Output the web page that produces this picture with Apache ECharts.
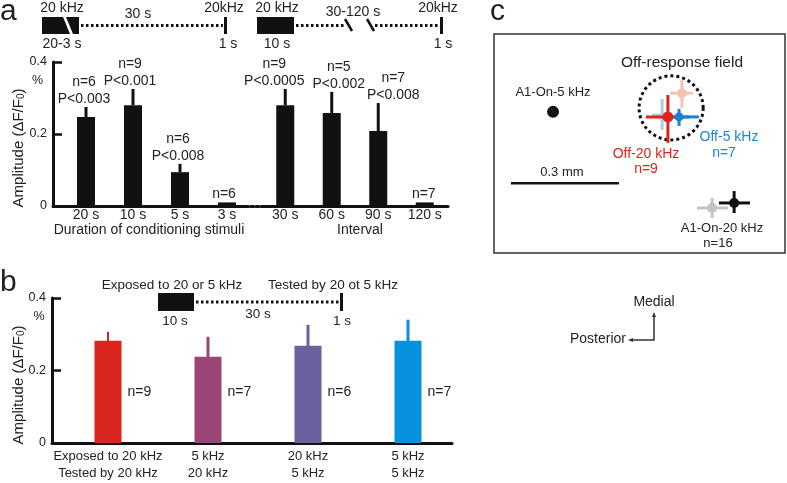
<!DOCTYPE html>
<html>
<head>
<meta charset="utf-8">
<script src="https://cdn.jsdelivr.net/npm/echarts@6/dist/echarts.min.js"></script>
<style>html,body{margin:0;padding:0;background:#fff}#c{width:787px;height:483px}</style>
</head>
<body>
<div id="c"></div>
<script>
// ---------- DATA ----------
const durCats = ['20 s', '10 s', '5 s', '3 s'];
const durMean = [0.247, 0.280, 0.094, 0.010];
const durUpper = [0.275, 0.325, 0.117, 0.010];
const durN = ['n=6', 'n=9', 'n=6', 'n=6'];
const durP = ['P<0.003', 'P<0.001', 'P<0.008', ''];

const intCats = ['30 s', '60 s', '90 s', '120 s'];
const intMean = [0.280, 0.258, 0.208, 0.010];
const intUpper = [0.325, 0.317, 0.286, 0.010];
const intN = ['n=9', 'n=5', 'n=7', 'n=7'];
const intP = ['P<0.0005', 'P<0.002', 'P<0.008', ''];

const expCats = ['Exposed to 20 kHz\nTested by 20 kHz', '5 kHz\n20 kHz', '20 kHz\n5 kHz', '5 kHz\n5 kHz'];
const expMean = [0.282, 0.238, 0.268, 0.282];
const expUpper = [0.307, 0.293, 0.326, 0.340];
const expN = ['n=9', 'n=7', 'n=6', 'n=7'];

const yTicks = [0, 0.2, 0.4];

// panel c, positions in mm inside the field of view
const spotNames = ['Off-5 kHz (pale)', 'Off-20 kHz (pale)', 'Off-20 kHz', 'Off-5 kHz', 'A1-On-20 kHz (pale)', 'A1-On-20 kHz', 'A1-On-5 kHz'];
const spotX   = [0.467, 0.522, 0.483, 0.514, 0.606, 0.667, 0.164];
const spotY   = [0.383, 0.444, 0.378, 0.378, 0.125, 0.139, 0.392];
const spotXLo = [0.439, 0.489, 0.422, 0.500, 0.564, 0.625, 0.164];
const spotXHi = [0.492, 0.553, 0.542, 0.569, 0.650, 0.711, 0.164];
const spotYLo = [0.342, 0.403, 0.306, 0.353, 0.097, 0.111, 0.392];
const spotYHi = [0.428, 0.481, 0.439, 0.400, 0.153, 0.172, 0.392];
const fieldCenter = [0.492, 0.403];
const fieldRadius = 0.089;
const scaleBarStart = [0.047, 0.194];
const scaleBarLength = 0.3;
const viewWidth = 0.8083, viewHeight = 0.6083;

// ---------- STYLE ----------
const FONT = "'Liberation Sans', Arial, sans-serif";
const INK = '#111';
const TXT = '#222';
const EXP_COLORS = ['#d9251e', '#9b4577', '#6c5f9e', '#0891dd'];
const EXP_ERR_W = [2, 3, 3, 3];
const DUR_DX = [-2, -3, -2, -3];
const INT_DX = [-11, 7, 15, -1];
const N_LABEL_Y = 0.14;
const SPOT_COLORS = ['#a9d0dd', '#f5c3b3', '#dd2420', '#1583d4', '#c4c4c4', '#111', '#111'];
const SPOT_DOT = [0, 10, 11, 9, 10, 10, 12];

function txt(x, y, text, opt) {
  opt = opt || {};
  return {
    type: 'text', x: x, y: y, rotation: opt.rotation || 0,
    style: {
      text: text, fill: opt.color || TXT,
      fontSize: opt.size || 14, fontFamily: FONT,
      align: opt.align || 'center', verticalAlign: 'middle',
      textAlign: opt.align || 'center', textVerticalAlign: 'middle',
      rich: opt.rich
    }
  };
}

function errRender(nArr, pArr, dxArr) {
  return function (params, api) {
    const i = params.dataIndex;
    const x = api.value(0);
    const top = api.coord([x, api.value(1)]);
    const up = api.coord([x, api.value(2)]);
    const ch = [];
    if (up[1] < top[1] - 0.5) {
      ch.push({ type: 'line', shape: { x1: top[0], y1: top[1], x2: up[0], y2: up[1] },
        style: { stroke: INK, lineWidth: 3 } });
    }
    const cx = up[0] + dxArr[i];
    if (pArr[i]) {
      ch.push(txt(cx, up[1] - 8, pArr[i]));
      ch.push(txt(cx, up[1] - 25, nArr[i]));
    } else {
      ch.push(txt(cx, up[1] - 8, nArr[i]));
    }
    return { type: 'group', children: ch };
  };
}

const yFmt = v => (v === 0 ? '0' : v.toFixed(1));
function shownY(grid) {
  return {
    gridIndex: grid, type: 'value', min: yTicks[0], max: yTicks[yTicks.length - 1], interval: yTicks[1] - yTicks[0],
    axisLine: { show: true, lineStyle: { color: INK, width: 3 } },
    axisTick: { show: true, inside: true, length: 9, lineStyle: { color: INK, width: 2.5 } },
    axisLabel: { fontSize: 12.5, color: TXT, margin: 6, formatter: yFmt, fontFamily: FONT },
    splitLine: { show: false }
  };
}
function hiddenY(grid) {
  return { gridIndex: grid, type: 'value', min: yTicks[0], max: yTicks[yTicks.length - 1], show: false };
}
function lineX(grid, extra) {
  return Object.assign({
    gridIndex: grid, type: 'value', min: 0, max: 1,
    axisLine: { show: true, lineStyle: { color: INK, width: 3 } },
    axisTick: { show: false }, axisLabel: { show: false }, splitLine: { show: false }
  }, extra || {});
}

const option = {
  animation: false,
  backgroundColor: '#fff',
  textStyle: { fontFamily: FONT },
  grid: [
    { left: 53, top: 62, width: 192, height: 144 },      // 0 a: left axis frame
    { left: 62.5, top: 62, width: 188, height: 144 },    // 1 a: duration bars
    { left: 262, top: 62, width: 186, height: 144 },     // 2 a: interval bars
    { left: 246, top: 62, width: 16, height: 144 },      // 3 a: dotted break
    { left: 52, top: 298, width: 400, height: 145 },     // 4 b: axis frame
    { left: 58, top: 298, width: 400, height: 145 },     // 5 b: bars
    { left: 494, top: 34, width: 291, height: 219, show: true, borderColor: '#333', borderWidth: 1.5, backgroundColor: 'transparent' } // 6 c
  ],
  xAxis: [
    lineX(0, { name: 'Duration of conditioning stimuli', nameLocation: 'middle', nameGap: 17,
      nameTextStyle: { fontSize: 14, color: TXT, fontFamily: FONT } }),
    { gridIndex: 1, type: 'category', data: durCats, axisLine: { show: false }, axisTick: { show: false },
      axisLabel: { fontSize: 14, color: TXT, margin: 2, fontFamily: FONT, interval: 0 } },
    { gridIndex: 2, type: 'category', data: intCats,
      axisLine: { show: true, lineStyle: { color: INK, width: 3 } }, axisTick: { show: false },
      axisLabel: { fontSize: 14, color: TXT, margin: 2, fontFamily: FONT, interval: 0 },
      name: 'Interval', nameLocation: 'middle', nameGap: 17,
      nameTextStyle: { fontSize: 14, color: TXT, fontFamily: FONT, padding: [0, 0, 0, 10] } },
    lineX(3, { axisLine: { show: true, lineStyle: { color: INK, width: 3, type: [2.5, 2.5] } } }),
    lineX(4),
    { gridIndex: 5, type: 'category', data: expCats, axisLine: { show: false }, axisTick: { show: false },
      axisLabel: { fontSize: 13, color: TXT, margin: 5, lineHeight: 17, fontFamily: FONT, interval: 0 } },
    { gridIndex: 6, type: 'value', min: 0, max: viewWidth, show: false }
  ],
  yAxis: [
    shownY(0), hiddenY(1), hiddenY(2), hiddenY(3), shownY(4), hiddenY(5),
    { gridIndex: 6, type: 'value', min: 0, max: viewHeight, show: false }
  ],
  series: [
    { type: 'bar', xAxisIndex: 1, yAxisIndex: 1, data: durMean, barWidth: 18, itemStyle: { color: INK }, silent: true },
    { type: 'custom', xAxisIndex: 1, yAxisIndex: 1, silent: true,
      data: durMean.map((m, i) => [i, m, durUpper[i]]), renderItem: errRender(durN, durP, DUR_DX) },
    { type: 'bar', xAxisIndex: 2, yAxisIndex: 2, data: intMean, barWidth: 18, itemStyle: { color: INK }, silent: true },
    { type: 'custom', xAxisIndex: 2, yAxisIndex: 2, silent: true,
      data: intMean.map((m, i) => [i, m, intUpper[i]]), renderItem: errRender(intN, intP, INT_DX) },
    { type: 'bar', xAxisIndex: 5, yAxisIndex: 5, barWidth: 27, silent: true,
      data: expMean.map((v, i) => ({ value: v, itemStyle: { color: EXP_COLORS[i] } })) },
    { type: 'custom', xAxisIndex: 5, yAxisIndex: 5, silent: true,
      data: expMean.map((m, i) => [i, m, expUpper[i]]),
      renderItem: function (params, api) {
        const i = params.dataIndex;
        const x = api.value(0);
        const top = api.coord([x, api.value(1)]);
        const up = api.coord([x, api.value(2)]);
        const lab = api.coord([x, N_LABEL_Y]);
        return { type: 'group', children: [
          { type: 'line', shape: { x1: top[0], y1: top[1] + 1, x2: up[0], y2: up[1] },
            style: { stroke: EXP_COLORS[i], lineWidth: EXP_ERR_W[i] } },
          txt(lab[0] + 13.5 + 6, lab[1], expN[i], { align: 'left' })
        ] };
      } },
    // panel c: off-response field
    { type: 'custom', xAxisIndex: 6, yAxisIndex: 6, silent: true,
      data: [[fieldCenter[0], fieldCenter[1], fieldRadius]],
      renderItem: function (params, api) {
        const c = api.coord([api.value(0), api.value(1)]);
        const e = api.coord([api.value(0) + api.value(2), api.value(1)]);
        return { type: 'circle', shape: { cx: c[0], cy: c[1], r: e[0] - c[0] },
          style: { fill: 'none', stroke: INK, lineWidth: 3, lineDash: [3, 3] } };
      } },
    // panel c: spots with error crosses
    { type: 'custom', xAxisIndex: 6, yAxisIndex: 6, silent: true,
      data: spotX.map((x, i) => [x, spotY[i], spotXLo[i], spotXHi[i], spotYLo[i], spotYHi[i]]),
      renderItem: function (params, api) {
        const i = params.dataIndex;
        const x = api.value(0), y = api.value(1);
        const c = api.coord([x, y]);
        const xl = api.coord([api.value(2), y]), xh = api.coord([api.value(3), y]);
        const yl = api.coord([x, api.value(4)]), yh = api.coord([x, api.value(5)]);
        const col = SPOT_COLORS[i];
        const ch = [];
        if (xh[0] - xl[0] > 0.5) ch.push({ type: 'line', shape: { x1: xl[0], y1: c[1], x2: xh[0], y2: c[1] }, style: { stroke: col, lineWidth: 3 } });
        if (yl[1] - yh[1] > 0.5) ch.push({ type: 'line', shape: { x1: c[0], y1: yl[1], x2: c[0], y2: yh[1] }, style: { stroke: col, lineWidth: 3 } });
        if (SPOT_DOT[i] > 0) ch.push({ type: 'circle', shape: { cx: c[0], cy: c[1], r: SPOT_DOT[i] / 2 }, style: { fill: col } });
        return { type: 'group', children: ch };
      } },
    // panel c: scale bar
    { type: 'custom', xAxisIndex: 6, yAxisIndex: 6, silent: true,
      data: [[scaleBarStart[0], scaleBarStart[1], scaleBarLength]],
      renderItem: function (params, api) {
        const a = api.coord([api.value(0), api.value(1)]);
        const b = api.coord([api.value(0) + api.value(2), api.value(1)]);
        return { type: 'group', children: [
          { type: 'line', shape: { x1: a[0], y1: a[1], x2: b[0], y2: b[1] }, style: { stroke: INK, lineWidth: 2.5 } },
          txt((a[0] + b[0]) / 2 - 3, a[1] - 11, '0.3 mm', { size: 13 })
        ] };
      } }
  ],
  graphic: [
    // panel letters
    txt(0, 12, 'a', { size: 30, align: 'left' }),
    txt(0, 283, 'b', { size: 30, align: 'left' }),
    txt(490, 12, 'c', { size: 30, align: 'left' }),
    // y titles and %
    txt(19, 148, 'Amplitude (ΔF/F{s|0})', { size: 15, rotation: Math.PI / 2, rich: { s: { fontSize: 10, verticalAlign: 'bottom', fontFamily: FONT, fill: TXT } } }),
    txt(19, 385, 'Amplitude (ΔF/F{s|0})', { size: 15, rotation: Math.PI / 2, rich: { s: { fontSize: 10, verticalAlign: 'bottom', fontFamily: FONT, fill: TXT } } }),
    txt(37.5, 81, '%', { size: 12.5 }),
    txt(39, 317, '%', { size: 12.5 }),
    // timing diagram a (left)
    { type: 'polygon', shape: { points: [[42, 17], [63, 17], [70, 34], [42, 34]] }, style: { fill: INK } },
    { type: 'polygon', shape: { points: [[66, 17], [79, 17], [79, 34], [73, 34]] }, style: { fill: INK } },
    { type: 'line', shape: { x1: 81, y1: 25.5, x2: 223, y2: 25.5 }, style: { stroke: INK, lineWidth: 3, lineDash: [2.5, 2.5] } },
    { type: 'rect', shape: { x: 224, y: 17, width: 3, height: 17 }, style: { fill: INK } },
    txt(62, 8, '20 kHz'), txt(62, 44, '20-3 s'), txt(138, 14, '30 s'), txt(224, 8, '20kHz'), txt(228, 44, '1 s'),
    // timing diagram a (right)
    { type: 'rect', shape: { x: 257, y: 17, width: 37, height: 17 }, style: { fill: INK } },
    { type: 'line', shape: { x1: 296, y1: 25.5, x2: 345, y2: 25.5 }, style: { stroke: INK, lineWidth: 3, lineDash: [2.5, 2.5] } },
    { type: 'line', shape: { x1: 345, y1: 19, x2: 352, y2: 31 }, style: { stroke: INK, lineWidth: 2.5 } },
    { type: 'line', shape: { x1: 367, y1: 19, x2: 374, y2: 31 }, style: { stroke: INK, lineWidth: 2.5 } },
    { type: 'line', shape: { x1: 375, y1: 25.5, x2: 439, y2: 25.5 }, style: { stroke: INK, lineWidth: 3, lineDash: [2.5, 2.5] } },
    { type: 'rect', shape: { x: 440, y: 17, width: 3, height: 17 }, style: { fill: INK } },
    txt(277, 8, '20 kHz'), txt(277, 44, '10 s'), txt(353, 12, '30-120 s'), txt(438, 8, '20kHz'), txt(443, 44, '1 s'),
    // timing diagram b
    { type: 'rect', shape: { x: 158, y: 293, width: 36, height: 18 }, style: { fill: INK } },
    { type: 'line', shape: { x1: 196, y1: 302, x2: 339, y2: 302 }, style: { stroke: INK, lineWidth: 3, lineDash: [2.5, 2.5] } },
    { type: 'rect', shape: { x: 340, y: 293, width: 3, height: 18 }, style: { fill: INK } },
    txt(172, 285, 'Exposed to 20 or 5 kHz', { size: 13.5 }), txt(333, 285, 'Tested by 20 ot 5 kHz', { size: 13.5 }),
    txt(175, 321, '10 s', { size: 13.5 }), txt(258, 314, '30 s', { size: 13.5 }), txt(342, 321, '1 s', { size: 13.5 }),
    // panel c labels
    txt(682, 63, 'Off-response field', { size: 15.5 }),
    txt(553, 92, 'A1-On-5 kHz', { size: 13 }),
    txt(646, 154, 'Off-20 kHz', { size: 14, color: '#e0231d' }),
    txt(646, 169, 'n=9', { size: 14, color: '#e0231d' }),
    txt(729, 137, 'Off-5 kHz', { size: 14, color: '#1b86d4' }),
    txt(724, 153, 'n=7', { size: 14, color: '#1b86d4' }),
    txt(722, 228, 'A1-On-20 kHz', { size: 13 }),
    txt(718, 243, 'n=16', { size: 13 }),
    // compass
    { type: 'polyline', shape: { points: [[654, 315], [654, 340], [631, 340]] }, style: { stroke: '#333', lineWidth: 1.5, fill: 'none' } },
    { type: 'polygon', shape: { points: [[654, 312], [652, 317], [656, 317]] }, style: { fill: '#333' } },
    { type: 'polygon', shape: { points: [[628, 340], [633, 338], [633, 342]] }, style: { fill: '#333' } },
    txt(654, 302, 'Medial'),
    txt(598, 339, 'Posterior')
  ]
};

const chart = echarts.init(document.getElementById('c'), null, { renderer: 'canvas' });
chart.setOption(option);
</script>
</body>
</html>
